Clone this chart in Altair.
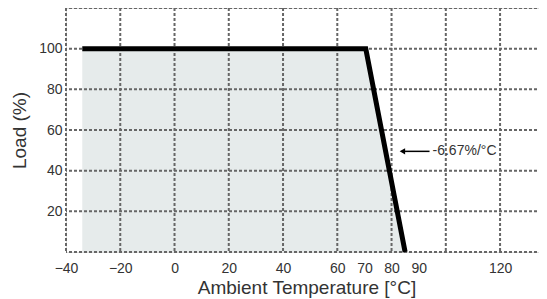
import altair as alt
import pandas as pd

# Derating curve (Ambient temperature °C, Load %)
curve_temp = [-34, 70.5, 85]
curve_load = [100, 100, 0]

# Grid lines
x_grid = [-40, -20, 0, 20, 40, 60, 80, 100, 120]
y_grid = [0, 20, 40, 60, 80, 100, 120]

# Tick labels
x_labels = [-40, -20, 0, 20, 40, 60, 70, 80, 90, 120]
y_labels = [20, 40, 60, 80, 100]

# Annotation
ann_text = "-6.67%/°C"
ann_load = 49.5
ann_arrow_from = 94.0
ann_arrow_to = 84.0

FONT = "Liberation Sans"
XDOM = [-40, 137.3]
YDOM = [0, 120]

curve = pd.DataFrame({"t": curve_temp, "load": curve_load})
xs = alt.Scale(domain=XDOM, nice=False, zero=False)
ys = alt.Scale(domain=YDOM, nice=False, zero=False)

x_axis = alt.Axis(values=x_labels, grid=False, domain=False, ticks=False,
                  labelPadding=9, labelFontSize=14, labelFont=FONT, labelColor="#333",
                  title="Ambient Temperature [°C]", titleFont=FONT, titleFontSize=19,
                  titleFontWeight="normal", titleColor="#333", titlePadding=3,
                  labelFlush=False)
y_axis = alt.Axis(values=y_labels, grid=False, domain=False, ticks=False,
                  labelPadding=4, labelFontSize=14, labelFont=FONT, labelColor="#333",
                  title="Load (%)", titleFont=FONT, titleFontSize=19,
                  titleFontWeight="normal", titleColor="#333", titlePadding=9)

area = alt.Chart(curve).mark_area(color="#e6ebeb", opacity=1).encode(
    x=alt.X("t:Q", scale=xs, axis=x_axis),
    y=alt.Y("load:Q", scale=ys, axis=y_axis),
)

vgrid = alt.Chart(pd.DataFrame({"g": x_grid})).mark_rule(
    color="#666666", strokeWidth=2, strokeDash=[3, 2]
).encode(x=alt.X("g:Q", scale=xs))

hgrid = alt.Chart(pd.DataFrame({"g": y_grid})).mark_rule(
    color="#666666", strokeWidth=2, strokeDash=[3, 2]
).encode(y=alt.Y("g:Q", scale=ys))

line = alt.Chart(curve).mark_line(color="black", strokeWidth=5).encode(
    x=alt.X("t:Q", scale=xs), y=alt.Y("load:Q", scale=ys)
)

ann = pd.DataFrame({"x1": [ann_arrow_from], "x2": [ann_arrow_to], "y": [ann_load], "txt": [ann_text]})
arrow = alt.Chart(ann).mark_rule(color="black", strokeWidth=1.5).encode(
    x=alt.X("x1:Q", scale=xs), x2="x2:Q", y=alt.Y("y:Q", scale=ys)
)
head = alt.Chart(ann).mark_point(shape="triangle-left", filled=True, color="black", size=40, opacity=1).encode(
    x=alt.X("x2:Q", scale=xs), y=alt.Y("y:Q", scale=ys)
)
label = alt.Chart(ann).mark_text(align="left", baseline="middle", dx=3, font=FONT, fontSize=14, color="#333").encode(
    x=alt.X("x1:Q", scale=xs), y=alt.Y("y:Q", scale=ys), text="txt:N"
)

chart = alt.layer(area, vgrid, hgrid, line, arrow, head, label).properties(
    width=481, height=244, autosize="none",
    padding={"left": 58, "top": 0, "right": -8, "bottom": 47},
).configure_view(stroke=None).configure(background="white")

chart.save("out.html", embed_options={"renderer": "svg", "actions": False})
